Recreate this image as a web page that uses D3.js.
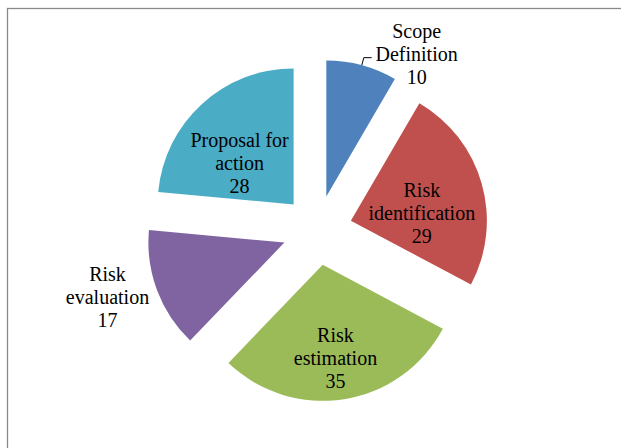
<!DOCTYPE html>
<html>
<head>
<meta charset="utf-8">
<script src="https://cdn.jsdelivr.net/npm/d3@7/dist/d3.min.js"></script>
<style>
  html, body { margin: 0; padding: 0; background: #ffffff; }
  svg { display: block; }
</style>
</head>
<body>
<script>
// ---- data ----
const categories = ["Scope Definition", "Risk identification", "Risk estimation", "Risk evaluation", "Proposal for action"];
const labelLines = [["Scope", "Definition"], ["Risk", "identification"], ["Risk", "estimation"], ["Risk", "evaluation"], ["Proposal for", "action"]];
const values = [10, 29, 35, 17, 28];

// ---- styles / layout ----
const colors = ["#4F81BD", "#C0504D", "#9BBB59", "#8064A2", "#4BACC6"];
const W = 621, H = 448;
const center = [317.2, 230.3];
const radius = 136;
const explode = 35;
// label placement relative to each exploded slice apex: radius (px) and angle (deg)
const labelPolar = [
  { r: 169, a: 32.3 },
  { r: 71.4, a: 83.8 },
  { r: 93.9, a: 172.2 },
  { r: 185, a: 253 },
  { r: 68, a: 307.4 }
];
const lineH = 23;

const svg = d3.select("body").append("svg")
  .attr("width", W).attr("height", H);

svg.append("rect").attr("width", W).attr("height", H).attr("fill", "#fff");

// chart frame (extends beyond the visible area on right and bottom)
svg.append("rect")
  .attr("x", 7.5).attr("y", 8.5)
  .attr("width", W + 20).attr("height", H + 20)
  .attr("fill", "none")
  .attr("stroke", "#8a8a8a")
  .attr("stroke-width", 1.3);

const pie = d3.pie().sort(null).value(d => d).startAngle(0).endAngle(2 * Math.PI);
const arcs = pie(values);
const arc = d3.arc().innerRadius(0).outerRadius(radius);

const g = svg.append("g").attr("transform", `translate(${center[0]},${center[1]})`);

function polar(angle, r) { return [Math.sin(angle) * r, -Math.cos(angle) * r]; }

arcs.forEach((d, i) => {
  const mid = (d.startAngle + d.endAngle) / 2;
  const off = polar(mid, explode);
  d.offset = off;
  d.mid = mid;
});

g.selectAll("path.slice")
  .data(arcs)
  .join("path")
  .attr("class", "slice")
  .attr("d", arc)
  .attr("transform", d => `translate(${d.offset[0]},${d.offset[1]})`)
  .attr("fill", (d, i) => colors[i]);

// labels
arcs.forEach((d, i) => {
  const lp = labelPolar[i];
  const p = polar(lp.a * Math.PI / 180, lp.r);
  const lx = d.offset[0] + p[0];
  const ly = d.offset[1] + p[1];
  const lines = labelLines[i].concat([String(values[i])]);
  const t = g.append("text")
    .attr("text-anchor", "middle")
    .attr("font-family", "'Liberation Serif', 'Times New Roman', serif")
    .attr("font-size", 20)
    .attr("fill", "#000");
  lines.forEach((ln, k) => {
    t.append("tspan")
      .attr("x", lx)
      .attr("y", ly + 7 + (k - 1) * lineH)
      .text(ln);
  });
  d.labelPos = [lx, ly];
  d.textNode = t;
});

// leader line for the Scope Definition label
{
  const d = arcs[0];
  const edge = polar(d.mid, radius);
  const ex = d.offset[0] + edge[0], ey = d.offset[1] + edge[1];
  const bb = d.textNode.node().getBBox();
  const ly = d.labelPos[1] + 4;
  const lx = d.labelPos[0] - 45;
  g.append("path")
    .attr("d", `M${lx},${ly} L${ex + 2},${ly} L${ex},${ey}`)
    .attr("fill", "none")
    .attr("stroke", "#000")
    .attr("stroke-width", 1);
}
</script>
</body>
</html>
